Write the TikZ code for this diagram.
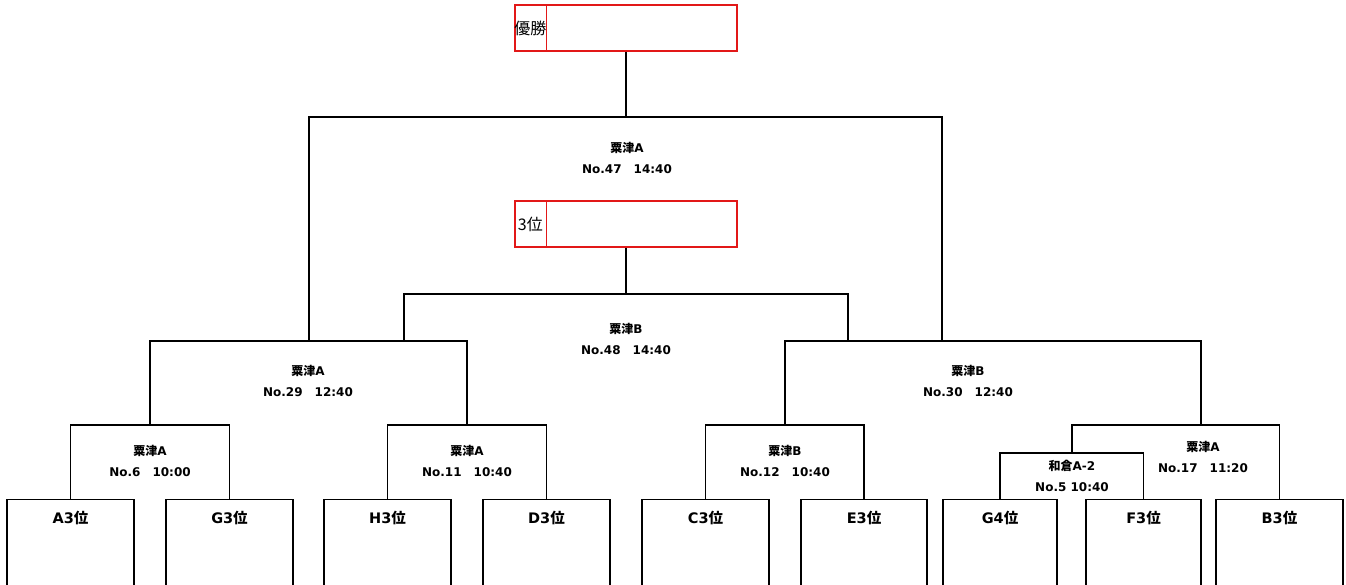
\documentclass[tikz,border=0pt]{standalone}
\usepackage{fontspec}
\setmainfont{DejaVu Sans}
\newfontfamily\cjk{Noto Sans CJK JP}
\usetikzlibrary{calc}
\newcommand{\jp}[1]{{\cjk #1}}
\definecolor{boxred}{RGB}{226,24,24}
\tikzset{
  bline/.style={line width=1.1pt},
  resbox/.style={draw=boxred, color=boxred, line width=1.3pt, minimum width=222, minimum height=46, inner sep=0pt},
  team/.style={draw, line width=1.1pt, anchor=north, text height=15, text depth=100, inner ysep=8.5, inner xsep=0pt, font=\bfseries\fontsize{14.5}{16}\selectfont},
  match/.style={align=center, font=\bfseries\fontsize{12}{21}\selectfont}
}

\begin{document}
\begin{tikzpicture}[x=1pt, y=-1pt]
\useasboundingbox (0,0) rectangle (1346,584);
% result boxes
\node[resbox] (win) at (626,28) {};
\draw[boxred, line width=1.3pt] ([xshift=32]win.north west) -- ([xshift=32]win.south west);
\node[font=\cjk\fontsize{16}{16}\selectfont] (winlab) at ([xshift=16]win.west) {優勝};
\node[resbox] (third) at (626,224) {};
\draw[boxred, line width=1.3pt] ([xshift=32]third.north west) -- ([xshift=32]third.south west);
\node[font=\cjk\fontsize{16}{16}\selectfont] (thirdlab) at ([xshift=16]third.west) {3位};
% team boxes
\foreach \n/\x/\w in {A3/70.5/127, G3/229.5/127, H3/387.5/127, D3/546.5/127, C3/705.5/127, E3/864/126, G4/1000/114, F3/1143.5/115, B3/1279.5/127}
  \node[team, minimum width=\w] (\n) at (\x,499) {\n\jp{位}};
% junctions
\coordinate (m6) at (150,425);
\coordinate (m11) at (467,425);
\coordinate (m12) at (785,425);
\coordinate (m5) at (1072,453);
\coordinate (m17) at (1201,425);
\coordinate (m29) at (309,341);
\coordinate (m30) at (942,341);
\coordinate (m47) at (626,117);
\coordinate (m48) at (626,294);
\coordinate (s29) at (404,341);
\coordinate (s30) at (848,341);
% bracket
\draw[bline] (A3.north) |- (m6) -| (G3.north);
\draw[bline] (H3.north) |- (m11) -| (D3.north);
\draw[bline] (C3.north) |- (m12) -| (E3.north);
\draw[bline] (G4.north) |- (m5) -| (F3.north);
\draw[bline] (m5) |- (m17) -| (B3.north);
\draw[bline] (m6) |- (m29) -| (m11);
\draw[bline] (m12) |- (m30) -| (m17);
\draw[bline] (m29) |- (m47) -| (m30);
\draw[bline] (s29) |- (m48) -| (s30);
\draw[bline] (win.south) -- (m47);
\draw[bline] (third.south) -- (m48);
% match labels
\node[match] (n47) at (627,158) {\jp{粟津}A\\No.47\jp{　}14:40};
\node[match] (n48) at (626,339) {\jp{粟津}B\\No.48\jp{　}14:40};
\node[match] (n29) at (308,381) {\jp{粟津}A\\No.29\jp{　}12:40};
\node[match] (n30) at (968,381) {\jp{粟津}B\\No.30\jp{　}12:40};
\node[match] (n6) at (150,460.5) {\jp{粟津}A\\No.6\jp{　}10:00};
\node[match] (n11) at (467,460.5) {\jp{粟津}A\\No.11\jp{　}10:40};
\node[match] (n12) at (785,460.5) {\jp{粟津}B\\No.12\jp{　}10:40};
\node[match] (n5) at (1072,475.5) {\jp{和倉}A-2\\No.5 10:40};
\node[match] (n17) at (1203,456.5) {\jp{粟津}A\\No.17\jp{　}11:20};
\end{tikzpicture}
\end{document}
